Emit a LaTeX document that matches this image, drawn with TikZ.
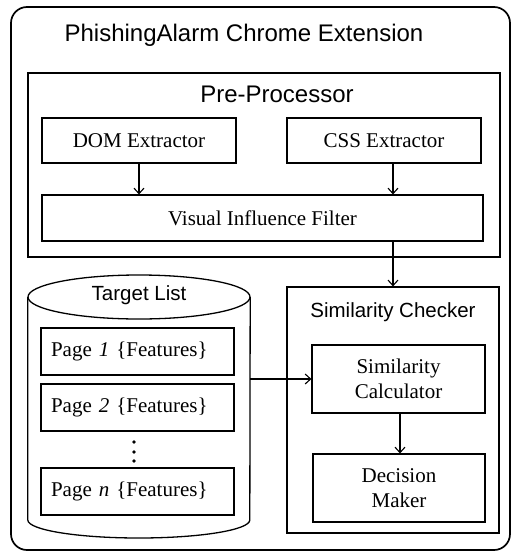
\documentclass[tikz,border=0pt]{standalone}
\usepackage{fontspec}
\setmainfont{Liberation Serif}
\newfontfamily\arialfont{Liberation Sans}
\usetikzlibrary{arrows.meta}

\tikzset{
	box/.style={draw, line width=1.1pt, inner sep=0pt, align=center, font=\fontsize{21}{25}\selectfont},
	pagebox/.style={draw, line width=1.1pt, inner xsep=10pt, inner ysep=0pt, minimum width=193, minimum height=47, text width=173pt, align=left, font=\fontsize{21}{25}\selectfont},
	container/.style={draw, line width=1.2pt, inner sep=0pt},
	title/.style={font=\arialfont\fontsize{24}{28}\selectfont},
	subtitle/.style={font=\arialfont\fontsize{20.5}{24}\selectfont},
	arr/.style={-{Straight Barb[length=5.5pt,width=10pt]}, line width=1.1pt}
}

\begin{document}
\begin{tikzpicture}[x=1pt, y=-1pt]
	\useasboundingbox (0,0) rectangle (512,552);
	
	% Estensione
	\node[container, line width=1.7pt, rounded corners=16pt, minimum width=499, minimum height=543] (ext) at (260.5,278.5) {};
	\node[title] (exttitle) at (244,35) {PhishingAlarm Chrome Extension};
	
	% Pre-Processor
	\node[container, minimum width=472, minimum height=184] (pre) at (264,165) {};
	\node[title] (pretitle) at (277,94) {Pre-Processor};
	\node[box, minimum width=194, minimum height=45] (dom) at (139,140.5) {DOM Extractor};
	\node[box, minimum width=194, minimum height=45] (css) at (384,140.5) {CSS Extractor};
	\node[box, minimum width=441, minimum height=46] (vif) at (262.5,218) {Visual Influence Filter};
	
	% Similarity Checker
	\node[container, minimum width=212, minimum height=246] (simchk) at (393,410) {};
	\node[subtitle] (simtitle) at (393,312) {Similarity Checker};
	\node[box, minimum width=173, minimum height=68] (simcalc) at (398.5,379) {Similarity\\Calculator};
	\node[box, minimum width=172, minimum height=68] (dec) at (399,488) {Decision\\Maker};
	
	% Target List
	\node[minimum width=222, minimum height=263, inner sep=0pt] (tlist) at (139,406.5) {};
	\draw[line width=1.3pt] (tlist.west |- 0,297) -- (tlist.west |- 0,520)
		arc[start angle=180, end angle=0, x radius=111, y radius=18] -- (tlist.east |- 0,297);
	\draw[line width=1.3pt] (139,297) ellipse [x radius=111, y radius=22];
	\node[subtitle] (tltitle) at (139,295) {Target List};
	\node[pagebox] (page1) at (137.5,351.5) {Page \textit{1} \{Features\}};
	\node[pagebox] (page2) at (137.5,407.5) {Page \textit{2} \{Features\}};
	\foreach \y in {442,452,461}
		\fill (134,\y) circle (1.8);
	\node[pagebox] (pagen) at (137.5,491.5) {Page \textit{n} \{Features\}};
	
	% Frecce
	\draw[arr] (dom.south) -- (dom.south |- vif.north);
	\draw[arr] (css.south -| simchk.north) -- (vif.north -| simchk.north);
	\draw[arr] (vif.south -| simchk.north) -- (simchk.north);
	\draw[arr] (simcalc.west -| tlist.east) -- (simcalc.west);
	\draw[arr] (simcalc.south -| 400,0) -- (dec.north -| 400,0);
\end{tikzpicture}
\end{document}
